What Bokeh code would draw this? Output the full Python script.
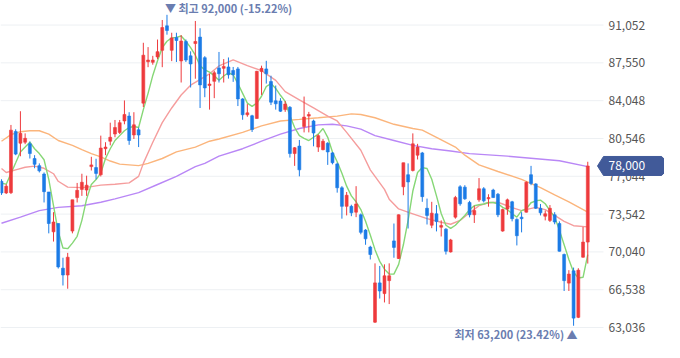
from bokeh.plotting import figure
from bokeh.models import ColumnDataSource, Label, Range1d
from bokeh.core.properties import value
from bokeh.embed import file_html
from bokeh.resources import INLINE

# ---- daily candles ----
opens = [76580, 75500, 75530, 81200, 80110, 80200, 80050, 78690, 78030, 77250,
         75590, 71900, 72670, 68530, 67900, 71970, 75070, 75830, 75770, 77940,
         77850, 77190, 79600, 80290, 80960, 81110, 82170, 82620, 80870, 81350,
         83820, 87650, 87600, 88100, 88710, 90980, 88710, 89910, 87720, 89530,
         88200, 89340, 89940, 88030, 85450, 85840, 87080, 87040, 87170, 86840,
         86990, 84210, 82740, 82650, 82400, 86750, 86990, 85820, 84030, 84010,
         83220, 83430, 79150, 79840, 81650, 82620, 82170, 79750, 79510, 80110,
         79210, 78190, 75980, 74260, 74260, 73720, 73480, 72060, 70490, 63530,
         67170, 66180, 67380, 71060, 69430, 76070, 77190, 77580, 79000, 79210,
         74080, 72510, 73570, 72330, 72150, 70040, 73260, 76070, 76040, 74620,
         73480, 74860, 75890, 74960, 75770, 75380, 71970, 74020, 74680, 73050,
         73260, 73720, 77190, 76340, 74080, 73350, 72960, 73480, 72670, 69800,
         67150, 68290, 63980, 69550, 70950]
highs = [76770, 76310, 81800, 81400, 83070, 81020, 80270, 79000, 78240, 77400,
         75590, 73720, 72670, 69500, 69950, 74870, 76430, 77280, 77100, 78850,
         78670, 80810, 80200, 82010, 82260, 82260, 84070, 82980, 82980, 81560,
         89410, 89010, 88200, 89710, 91520, 92000, 90340, 90340, 90120, 89710,
         88620, 91430, 90760, 88170, 86540, 86810, 88560, 87900, 88050, 87170,
         87170, 84280, 83730, 82740, 86810, 87290, 87740, 86360, 85450, 84280,
         84010, 83550, 79750, 80410, 84430, 83010, 82290, 80930, 80500, 80200,
         79300, 78300, 76130, 75590, 74410, 76130, 73600, 72150, 70610, 68980,
         68740, 68890, 68980, 72670, 73510, 78300, 78240, 81020, 80050, 79300,
         74980, 74680, 74380, 72960, 72240, 71250, 75230, 76220, 76220, 74770,
         74320, 76880, 76040, 75380, 75890, 75500, 74050, 74980, 74770, 73150,
         73720, 76580, 78010, 76400, 74480, 73870, 74380, 73720, 72870, 69890,
         68350, 68590, 68530, 72360, 78390]
lows = [75320, 75400, 75400, 79000, 78900, 80020, 78690, 77790, 77400, 74620,
        71760, 71000, 68500, 66930, 66630, 71760, 74620, 75230, 75230, 77580,
        76770, 77030, 79000, 79910, 80660, 80960, 81860, 79960, 80500, 79750,
        83460, 87150, 87380, 87900, 87150, 90160, 87710, 87630, 85730, 87630,
        85270, 86080, 83370, 84370, 83220, 84280, 85730, 85730, 86090, 85790,
        83550, 82280, 82560, 81150, 82380, 84580, 85630, 83640, 83220, 83010,
        83010, 78780, 78010, 77040, 81110, 81110, 79820, 79300, 79450, 78100,
        78150, 75530, 73120, 73420, 73350, 73260, 71670, 70700, 69340, 63460,
        65720, 65360, 65210, 69500, 69380, 75290, 72210, 77490, 78600, 74680,
        72580, 72240, 71940, 71470, 69800, 69980, 73120, 74320, 74860, 73240,
        72720, 74680, 74620, 74230, 75050, 73260, 71910, 73480, 72870, 70640,
        71850, 73690, 76220, 74020, 73420, 72960, 72810, 72600, 70070, 66420,
        66420, 63200, 63910, 69500, 68960]
closes = [75500, 76130, 81320, 79100, 81020, 80560, 79150, 78150, 77550, 75620,
          72670, 72810, 68650, 67900, 69550, 74870, 75740, 76490, 76220, 78100,
          77310, 79660, 79750, 80660, 81560, 82010, 82770, 80360, 81810, 80870,
          88260, 87810, 87810, 88590, 90820, 90550, 89860, 89620, 89570, 87810,
          87450, 89530, 85510, 85230, 85590, 86630, 86540, 87220, 86450, 86450,
          84210, 82740, 82920, 81380, 86770, 87040, 86540, 83910, 83760, 83070,
          83730, 79150, 79690, 77640, 82530, 82770, 81050, 80810, 80290, 79300,
          78300, 75980, 74260, 75290, 73660, 74480, 71850, 71250, 69800, 67170,
          66420, 67830, 67830, 70460, 73480, 78300, 76520, 80050, 79750, 75160,
          73420, 73630, 72850, 72490, 70100, 71150, 75070, 74500, 74960, 73480,
          73870, 75890, 74770, 75070, 75070, 73480, 73960, 74860, 73120, 71540,
          73120, 76490, 76380, 74080, 73660, 73570, 74080, 72810, 70100, 67380,
          67990, 63910, 68350, 70950, 78000]

# ---- moving averages (at sample days) ----
ma5_idx = list(range(0, 125))
ma5_val = [76403, 76313, 77308, 78300, 79300, 79750, 80203, 79597, 79145, 78574,
           76765, 74321, 71905, 70403, 70340, 70856, 71488, 72963, 74927, 76285,
           76738, 77335, 78693, 79597, 80358, 80810, 81263, 81562, 81652, 81562,
           83218, 84729, 86385, 87742, 88955, 89552, 89860, 89914, 90041, 89552,
           88955, 88258, 87290, 86901, 86693, 86358, 85933, 86331, 86630, 86449,
           85634, 84729, 83824, 83525, 83824, 84457, 85362, 85634, 85182, 84548,
           83978, 82647, 81562, 80810, 80566, 80358, 80656, 80954, 81470, 80656,
           79300, 78394, 77335, 76131, 75226, 74683, 73959, 72873, 71606, 70249,
           69163, 68439, 67986, 67986, 68891, 70701, 72964, 75679, 77398, 77851,
           77761, 76765, 75226, 73597, 72511, 72213, 72511, 72964, 73416, 73959,
           74321, 74412, 74475, 74620, 74620, 74502, 74168, 73959, 73570, 73262,
           73869, 74023, 74593, 74774, 74837, 74502, 73869, 73262, 72059, 70701,
           69344, 68167, 67624, 67688, 69796]
ma20_idx = [0, 1, 3, 5, 7, 9, 11, 12, 14, 17, 19, 21, 24, 27, 29, 30, 32, 34, 36,
            38, 40, 44, 46, 49, 52, 55, 58, 60, 63, 66, 69, 71, 73, 76, 78, 81,
            82, 84, 87, 90, 93, 95, 97, 99, 101, 103, 105, 108, 110, 113, 115,
            117, 119, 121, 124]
ma20_val = [77760, 77398, 77643, 77878, 77987, 77787, 77280, 76584, 76041, 75996,
            76086, 76222, 76312, 76430, 77036, 78240, 80203, 82014, 83371, 84575,
            85480, 86539, 87263, 87833, 87290, 86838, 85932, 84882, 84122, 83371,
            82620, 82168, 81109, 79453, 77643, 75833, 74928, 74023, 73570, 73118,
            72783, 72602, 72964, 73661, 74321, 74593, 74638, 74140, 73869, 74168,
            73959, 73416, 72873, 72466, 72358]
ma60_idx = [0, 2, 4, 6, 8, 10, 12, 15, 17, 19, 21, 23, 25, 29, 31, 34, 37, 41, 44,
            46, 51, 55, 59, 63, 67, 71, 74, 76, 79, 83, 87, 89, 92, 96, 98, 101,
            105, 110, 114, 117, 120, 124]
ma60_val = [80294, 80901, 81172, 81263, 81263, 80955, 80358, 79905, 79507, 79145,
            78846, 78457, 78168, 78032, 78240, 78693, 79300, 79751, 80294, 80502,
            81109, 81715, 82168, 82313, 82466, 82620, 82828, 82765, 82466, 81860,
            81471, 81317, 80656, 79751, 78999, 78095, 77489, 76765, 75996, 75317,
            74683, 73715]
ma120_idx = [0, 4, 8, 12, 17, 21, 24, 29, 33, 37, 41, 43, 46, 51, 55, 59, 63, 67,
             70, 73, 76, 79, 83, 87, 91, 95, 99, 107, 118, 124]
ma120_val = [72693, 73262, 73869, 74168, 74321, 74638, 74955, 75525, 76285, 77036,
             77941, 78240, 78910, 79598, 80294, 80955, 81471, 81806, 81860, 81715,
             81408, 80810, 80358, 79905, 79597, 79389, 79145, 78910, 78484, 77941]

# ---- price scale ----
tick_values = [63036, 66538, 70040, 73542, 77044, 80546, 84048, 87550, 91052]
tick_labels = ["63,036", "66,538", "70,040", "73,542", "77,044", "80,546",
               "84,048", "87,550", "91,052"]

hi_idx, hi_val, hi_text = 35, 92000, "▼ 최고 92,000 (-15.22%)"
lo_idx, lo_val, lo_text = 121, 63200, "최저 63,200 (23.42%) ▲"
last_val, last_text = 78000, "78,000"

RED = "#ee3a3d"
BLUE = "#1b7be6"
FONT = "Noto Sans CJK KR"

# geometry (pixels -> index units)
PX = 4.728                      # pixels per day
X0 = -0.2115                    # left edge of the frame in day units
W, H = 664, 342
Y0, Y1 = 61650, 93326
x_end = X0 + W / PX
grid_end = X0 + 603 / PX        # grid stops before the price scale
label_x = X0 + 608 / PX
tag_tip = X0 + 597 / PX
tag_left = X0 + 603 / PX
px_y = (Y1 - Y0) / H

n = len(closes)
idx = list(range(n))
up = [c >= o for o, c in zip(opens, closes)]
src = ColumnDataSource(dict(
    x=idx,
    top=[max(o, c) for o, c in zip(opens, closes)],
    bottom=[min(o, c) for o, c in zip(opens, closes)],
    high=highs, low=lows,
    color=[RED if u else BLUE for u in up],
))

p = figure(frame_width=W, frame_height=H,
           x_range=Range1d(X0, x_end), y_range=Range1d(Y0, Y1),
           output_backend="svg", toolbar_location=None,
           x_axis_location=None, y_axis_location=None,
           min_border=0)
p.outline_line_color = None
p.background_fill_color = "white"
p.border_fill_color = "white"
p.xgrid.visible = False
p.ygrid.visible = False

# horizontal grid lines, ending before the price scale
p.segment(x0=[X0] * len(tick_values), y0=tick_values,
          x1=[grid_end] * len(tick_values), y1=tick_values,
          line_color="#edf0f3", line_width=1)

# price scale labels
p.text(x=[label_x] * len(tick_values), y=tick_values, text=tick_labels,
       text_font=value(FONT), text_font_size="12px", text_color="#555555",
       text_align="left", text_baseline="middle")

# moving averages
p.line(ma120_idx, ma120_val, line_color="#b987f6", line_width=1.4)
p.line(ma60_idx, ma60_val, line_color="#fbb57c", line_width=1.4)
p.line(ma20_idx, ma20_val, line_color="#f59d9d", line_width=1.4)
p.line(ma5_idx, ma5_val, line_color="#86d776", line_width=1.4)

# candles
p.segment(x0="x", y0="high", x1="x", y1="low", source=src, line_color="color", line_width=1)
p.vbar(x="x", top="top", bottom="bottom", width=0.62, source=src,
       fill_color="color", line_color="color", line_width=0.6)

# high / low annotations
p.add_layout(Label(x=hi_idx, y=hi_val, x_offset=-2, y_offset=7, text=hi_text,
                   text_font=FONT, text_font_size="11px", text_font_style="bold",
                   text_color="#6a7db0", text_align="left", text_baseline="middle"))
p.add_layout(Label(x=lo_idx, y=lo_val, x_offset=4, y_offset=-8, text=lo_text,
                   text_font=FONT, text_font_size="11px", text_font_style="bold",
                   text_color="#6a7db0", text_align="right", text_baseline="middle"))

# last price tag
half = 9.5 * px_y
r = 0.6
p.patch([tag_tip, tag_left, x_end - r, x_end, x_end, x_end - r, tag_left],
        [last_val, last_val + half, last_val + half, last_val + half - 3 * px_y,
         last_val - half + 3 * px_y, last_val - half, last_val - half],
        fill_color="#415a99", line_color="#415a99")
p.text(x=[label_x], y=[last_val], text=[last_text], text_font=value(FONT),
       text_font_size="12px", text_color="white", text_align="left",
       text_baseline="middle")

open("out.html", "w").write(file_html(p, INLINE))
